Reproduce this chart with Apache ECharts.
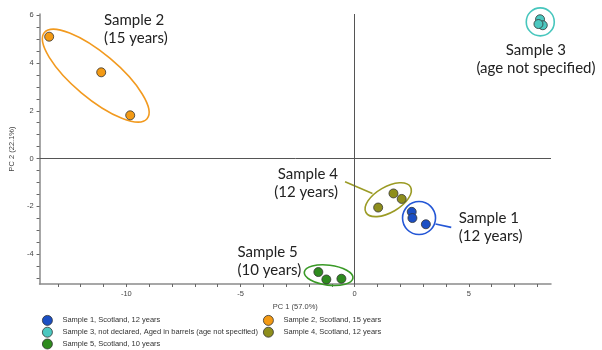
<!DOCTYPE html>
<html>
<head>
<meta charset="utf-8">
<script src="https://cdn.jsdelivr.net/npm/echarts@6/dist/echarts.min.js"></script>
<style>html,body{margin:0;padding:0;background:#fff}#c{width:602px;height:350px}</style>
</head>
<body>
<div id="c"></div>
<script>
// ---- data ----
const seriesNames = [
  'Sample 1, Scotland, 12 years',
  'Sample 2, Scotland, 15 years',
  'Sample 3, not declared, Aged in barrels (age not specified)',
  'Sample 4, Scotland, 12 years',
  'Sample 5, Scotland, 10 years'
];
const sample1 = [[2.50, -2.23], [2.53, -2.49], [3.12, -2.75]];
const sample2 = [[-13.38, 5.10], [-11.10, 3.61], [-9.83, 1.81]];
const sample3 = [[8.12, 5.83], [8.24, 5.58], [8.05, 5.63]];
const sample4 = [[1.03, -2.05], [1.70, -1.46], [2.06, -1.69]];
const sample5 = [[-1.59, -4.75], [-1.24, -5.06], [-0.58, -5.03]];
const xTicks = [-13,-12,-11,-10,-9,-8,-7,-6,-5,-4,-3,-2,-1,0,1,2,3,4,5,6,7,8];
const xLabels = [-10, -5, 0, 5];
const yTicks = [-5,-4.5,-4,-3.5,-3,-2.5,-2,-1.5,-1,-0.5,0,0.5,1,1.5,2,2.5,3,3.5,4,4.5,5,5.5,6];
const yLabels = [-4, -2, 0, 2, 4, 6];
const annotationTexts = ['Sample 1\n(12 years)', 'Sample 2\n(15 years)', 'Sample 3\n(age not specified)', 'Sample 4\n(12 years)', 'Sample 5\n(10 years)'];

// ---- styling / annotation layout ----
const colors = ['#1B4FC4', '#F39A14', '#4CC8C0', '#8E8E1C', '#2E8B1E'];
const ringColors = ['#2457D6', '#F29A1F', '#47C6BD', '#9B9B25', '#3A9A27'];
const annot = [
  {center:[2.82,-2.49], rx:16.5, ry:16.5, rot:0, lead:[[3.54,-2.74],[4.23,-2.88]], label:[4.56,-2.86], align:'left'},
  {center:[-11.34,3.47], rx:67, ry:22.4, rot:-40, lead:null, label:[-10.98,5.40], align:'left'},
  {center:[8.13,5.72], rx:14, ry:14, rot:0, lead:null, label:[7.94,4.18], align:'center'},
  {center:[1.47,-1.72], rx:25.7, ry:12.8, rot:30, lead:[[-0.42,-0.97],[0.78,-1.46]], label:[-0.73,-1.05], align:'right'},
  {center:[-1.14,-4.88], rx:24.5, ry:10, rot:-7, lead:null, label:[-5.13,-4.28], align:'left'}
];

const allData = [sample1, sample2, sample3, sample4, sample5];
const axisFont = 'Liberation Sans, Arial, sans-serif';

const chart = echarts.init(document.getElementById('c'), null, {renderer:'canvas'});

const scatterSeries = allData.map((d, i) => ({
  name: seriesNames[i],
  type: 'scatter',
  data: d,
  symbolSize: 9,
  itemStyle: {color: colors[i], borderColor: '#333', borderWidth: 0.8, opacity: 1},
  z: 5
}));

const annotSeries = {
  type: 'custom',
  coordinateSystem: 'cartesian2d',
  clip: false,
  silent: true,
  z: 4,
  data: annot.map(a => a.center),
  renderItem: function(params, api) {
    const i = params.dataIndex;
    const a = annot[i];
    const c = api.coord(a.center);
    const children = [{
      type: 'ellipse',
      x: c[0], y: c[1],
      rotation: a.rot * Math.PI / 180,
      shape: {cx: 0, cy: 0, rx: a.rx, ry: a.ry},
      style: {fill: 'none', stroke: ringColors[i], lineWidth: 1.6}
    }];
    if (a.lead) {
      const p1 = api.coord(a.lead[0]), p2 = api.coord(a.lead[1]);
      children.push({type:'line', shape:{x1:p1[0], y1:p1[1], x2:p2[0], y2:p2[1]},
        style:{stroke: ringColors[i], lineWidth: 1.6}});
    }
    const lp = api.coord(a.label);
    children.push({type:'text', x: lp[0], y: lp[1], style:{
      text: annotationTexts[i], fill:'#222', font: '15px Lato, sans-serif',
      align: a.align, verticalAlign: 'middle', lineHeight: 18
    }});
    return {type:'group', children: children};
  },
  markLine: {
    silent: true, symbol: 'none', animation: false,
    label: {show: false},
    lineStyle: {color: '#555', width: 1, type: 'solid'},
    data: [{xAxis: 0}, {yAxis: 0}]
  }
};

const legendCommon = {
  orient: 'vertical', icon: 'circle', itemWidth: 10, itemHeight: 10, itemGap: 1,
  padding: 0, height: 40,
  textStyle: {fontSize: 7.5, color: '#333', fontFamily: axisFont, padding: [0,0,0,5]},
  itemStyle: {borderColor: '#333', borderWidth: 0.8},
  selectedMode: false
};

chart.setOption({
  animation: false,
  backgroundColor: '#fff',
  grid: {left: 37, right: 51, top: 14, bottom: 66},
  xAxis: {
    type: 'value', min: -13.8, max: 8.6,
    splitLine: {show: false},
    axisLine: {onZero: false, lineStyle: {color: '#8a8a8a', width: 1.5}},
    axisTick: {show: true, length: 3, customValues: xTicks, lineStyle: {color: '#666'}},
    axisLabel: {customValues: xLabels, fontSize: 7.5, color: '#444', fontFamily: axisFont, margin: 6},
    name: 'PC 1 (57.0%)', nameLocation: 'middle', nameGap: 19,
    nameTextStyle: {fontSize: 7.5, color: '#444', fontFamily: axisFont}
  },
  yAxis: {
    type: 'value', min: -5.25, max: 6.05,
    splitLine: {show: false},
    axisLine: {onZero: false, lineStyle: {color: '#8a8a8a', width: 1.5}},
    axisTick: {show: true, length: 3, customValues: yTicks, lineStyle: {color: '#666'}},
    axisLabel: {customValues: yLabels, fontSize: 7.5, color: '#444', fontFamily: axisFont, margin: 6},
    name: 'PC 2 (22.1%)', nameLocation: 'middle', nameGap: 17,
    nameTextStyle: {fontSize: 7.5, color: '#444', fontFamily: axisFont}
  },
  legend: [
    Object.assign({left: 42, top: 315, data: [seriesNames[0], seriesNames[2], seriesNames[4]]}, legendCommon),
    Object.assign({left: 263, top: 315, data: [seriesNames[1], seriesNames[3]]}, legendCommon)
  ],
  series: scatterSeries.concat([annotSeries])
});
</script>
</body>
</html>
